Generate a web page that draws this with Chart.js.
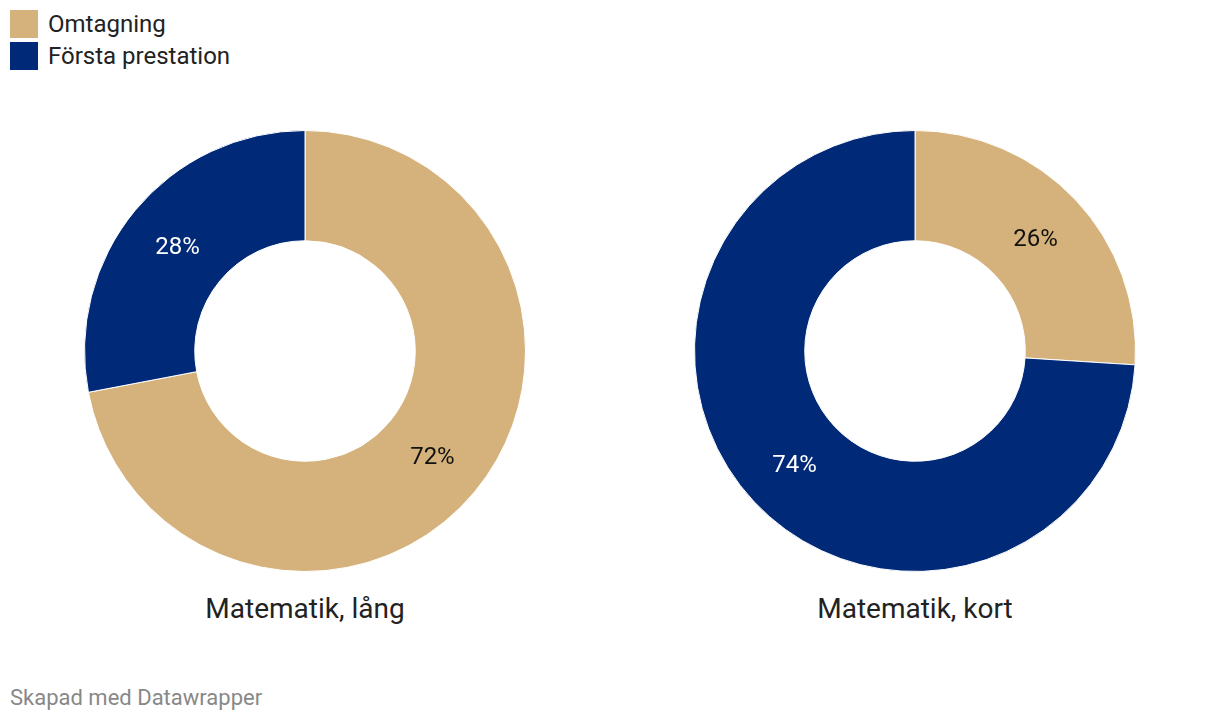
<!DOCTYPE html>
<html><head><meta charset="utf-8">
<script src="https://cdn.jsdelivr.net/npm/chart.js@4"></script>
<style>
html,body{margin:0;padding:0;background:#fff;width:1220px;height:720px;overflow:hidden;font-family:Roboto,sans-serif;}
.legend{position:absolute;left:10px;top:8px;}
.li{display:flex;align-items:center;height:32px;font-size:24px;color:#222;}
.sw{width:28px;height:28px;margin-right:10px;}
.box{position:absolute;width:442px;height:442px;top:130px;}
.title{position:absolute;top:592px;width:600px;text-align:center;font-size:28px;color:#222;}
.foot{position:absolute;left:10px;top:685px;font-size:22px;color:#888;}
</style></head>
<body>
<div class="legend" id="legend"></div>
<div class="box" style="left:84px"><canvas id="c1" width="442" height="442"></canvas></div>
<div class="box" style="left:694px"><canvas id="c2" width="442" height="442"></canvas></div>
<div class="title" id="t1" style="left:5px"></div>
<div class="title" id="t2" style="left:615px"></div>
<div class="foot">Skapad med Datawrapper</div>
<script>
const seriesNames = ["Omtagning", "Första prestation"];
const seriesColors = ["#d5b27b", "#002a77"];
const labelColors = ["#111", "#fff"];
const chartTitles = ["Matematik, lång", "Matematik, kort"];
const langValues = [72, 28];
const kortValues = [26, 74];

const lg = document.getElementById('legend');
seriesNames.forEach((n,i)=>{
  const d=document.createElement('div');d.className='li';
  d.innerHTML='<div class="sw" style="background:'+seriesColors[i]+'"></div><span>'+n+'</span>';
  lg.appendChild(d);
});
document.getElementById('t1').textContent=chartTitles[0];
document.getElementById('t2').textContent=chartTitles[1];

const pctLabels = {
  id:'pctLabels',
  afterDatasetsDraw(chart){
    const ctx=chart.ctx;
    const meta=chart.getDatasetMeta(0);
    meta.data.forEach((arc,i)=>{
      const p=arc.getProps(['x','y','startAngle','endAngle','innerRadius','outerRadius'],true);
      const a=(p.startAngle+p.endAngle)/2;
      const r=(p.innerRadius+p.outerRadius)/2;
      ctx.save();
      ctx.font='24px Roboto';
      ctx.fillStyle=labelColors[i];
      ctx.textAlign='center';ctx.textBaseline='middle';
      ctx.fillText(chart.data.datasets[0].data[i]+'%', p.x+Math.cos(a)*r, p.y+Math.sin(a)*r+2);
      ctx.restore();
    });
  }
};

function make(id, vals){
  new Chart(document.getElementById(id),{
    type:'doughnut',
    data:{labels:seriesNames,datasets:[{data:vals,backgroundColor:seriesColors,borderColor:'#fff',borderWidth:1,hoverOffset:0}]},
    options:{responsive:false,animation:false,cutout:'50%',
      layout:{padding:0},
      plugins:{legend:{display:false},tooltip:{enabled:false}}},
    plugins:[pctLabels]
  });
}
make('c1', langValues);
make('c2', kortValues);
</script>
</body></html>
